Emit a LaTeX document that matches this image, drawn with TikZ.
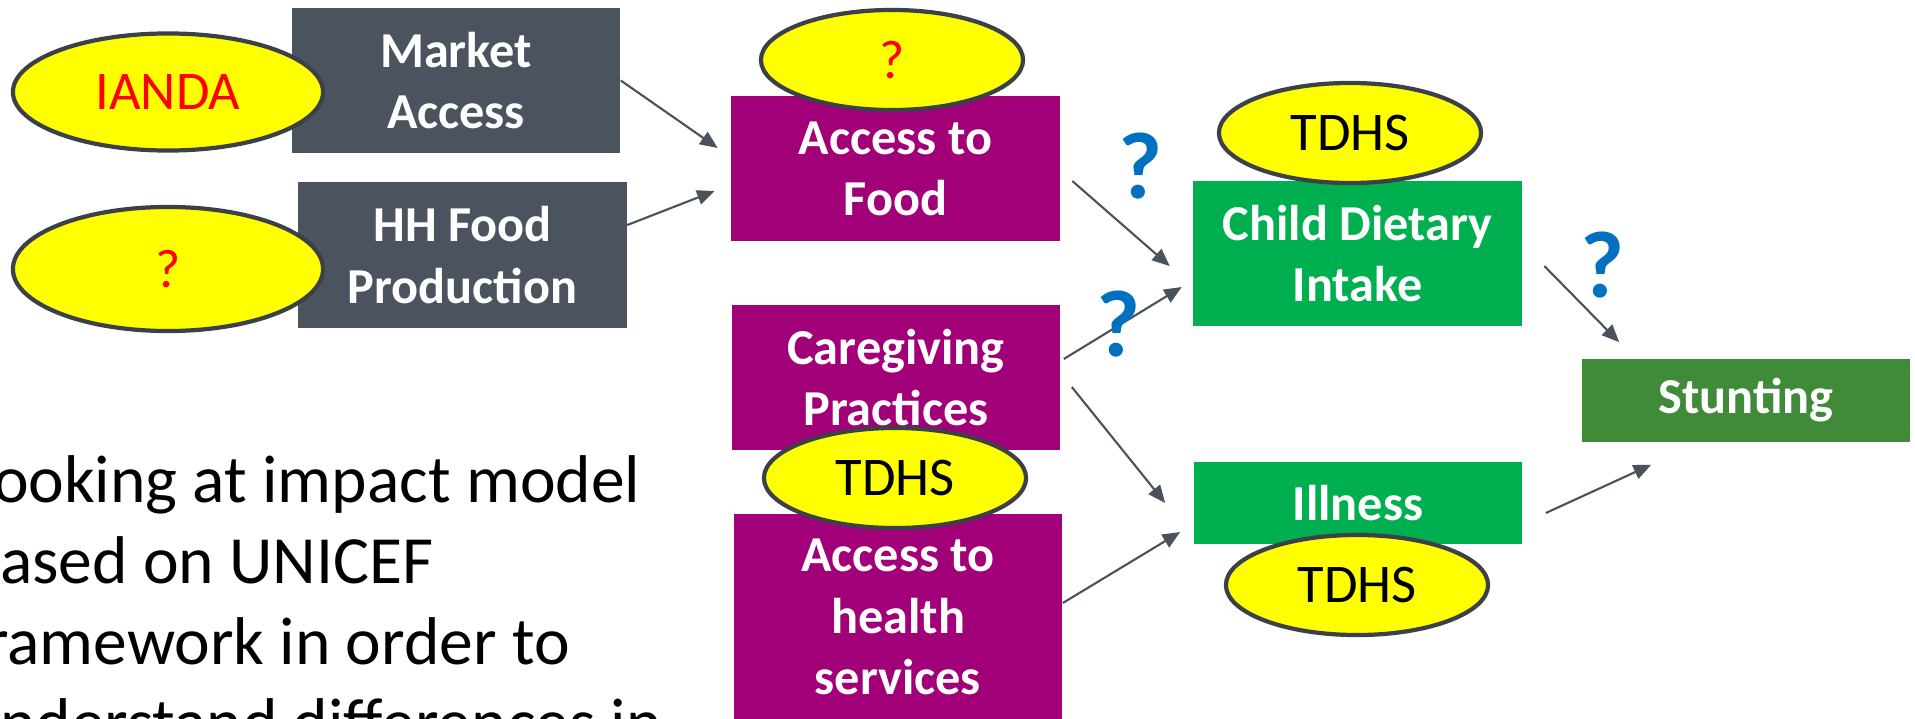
\documentclass[tikz,border=0pt]{standalone}
\usepackage{fontspec}
\setmainfont{Carlito}
\usetikzlibrary{arrows.meta, positioning, calc, shapes.geometric}

\definecolor{boxgray}{HTML}{4B545E}
\definecolor{boxpurple}{HTML}{A20078}
\definecolor{boxgreen}{HTML}{00B050}
\definecolor{stuntgreen}{HTML}{3F8B3A}
\definecolor{ringgray}{HTML}{3C4147}
\definecolor{arrowgray}{HTML}{4A525B}
\definecolor{qblue}{HTML}{0070C0}
\definecolor{srcyellow}{HTML}{FFFF00}

\begin{document}
\begin{tikzpicture}[x=0.01cm, y=-0.01cm,
  factor/.style={fill=#1, text=white, align=center, inner sep=0pt,
    minimum width=3.28cm, minimum height=1.45cm,
    font=\bfseries\fontsize{14.3}{17.4}\selectfont},
  source/.style={ellipse, draw=ringgray, line width=1.2pt, fill=srcyellow,
    inner sep=0pt, minimum width=2.62cm, minimum height=1.0cm,
    font=\fontsize{15.5}{18}\selectfont},
  link/.style={-{Triangle[length=5pt,width=4.2pt]}, draw=arrowgray, line width=0.6pt},
  unknown/.style={text=qblue, inner sep=0pt, font=\bfseries\fontsize{27}{30}\selectfont}]
  \useasboundingbox (0,0) rectangle (1915,718);
  \clip (0,0) rectangle (1915,718);

  % Underlying causes (gray)
  \node[factor=boxgray] (mkt) at (456,80.5) {Market\\Access};
  \node[factor=boxgray] (hh) at (462.5,255) {HH Food\\Production};

  % Underlying causes (purple)
  \node[factor=boxpurple] (food) at (895.5,168.5) {Access to\\Food};
  \node[factor=boxpurple] (care) at (896,377.5) {Caregiving\\Practices};
  \node[factor=boxpurple, minimum height=2.06cm] (health) at (898,617) {Access to\\health\\services};

  % Immediate causes and outcome
  \node[factor=boxgreen] (cdi) at (1357.5,253.5) {Child Dietary\\Intake};
  \node[factor=boxgreen, minimum height=0.82cm] (ill) at (1358,503) {Illness};
  \node[factor=stuntgreen, minimum height=0.83cm] (stunt) at (1746,400.5) {Stunting};

  % Data sources
  \node[source, minimum width=3.1cm, minimum height=1.17cm, text=red] (srcmkt) at (168,92) {IANDA};
  \node[source, minimum width=3.1cm, minimum height=1.24cm, text=red] (srchh) at (168,269) {?};
  \node[source, text=red] (srcfood) at (892,60) {?};
  \node[source] (srccdi) at (1350,133) {TDHS};
  \node[source] (srccare) at (895,478) {TDHS};
  \node[source] (srcill) at (1357,585) {TDHS};

  % Links
  \draw[link] (mkt.east) -- ($(food.west)+(-13,-20.5)$);
  \draw[link] ($(hh.east)+(0,-30)$) -- ($(food.west)+(-16,22.5)$);
  \draw[link] ($(food.east)+(12,12.5)$) -- ($(cdi.west)+(-23,12.5)$);
  \draw[link] ($(care.east)+(3,-18.5)$) -- ($(cdi.west)+(-11,33.5)$);
  \draw[link] ($(care.east)+(11,9.5)$) -- ($(ill.west)+(-28,0)$);
  \draw[link] ($(health.east)+(0,-14)$) -- ($(ill.west)+(-13,29)$);
  \draw[link] ($(cdi.east)+(22,12.5)$) -- ($(stunt.north west)+(38,-16)$);
  \draw[link] ($(ill.east)+(23,10)$) -- ($(stunt.south west)+(70,22)$);

  % Open questions
  \node[unknown] (qfood) at (1140,166) {?};
  \node[unknown] (qcare) at (1118,324) {?};
  \node[unknown] (qcdi) at (1602,265) {?};

  % Side note (last line sits on the base anchor)
  \node[anchor=base west, align=left, inner sep=0pt,
    font=\fontsize{19.2}{23}\selectfont] (note) at (-36,745)
    {Looking at impact model\\based on UNICEF\\framework in order to\\understand differences in};
\end{tikzpicture}
\end{document}
